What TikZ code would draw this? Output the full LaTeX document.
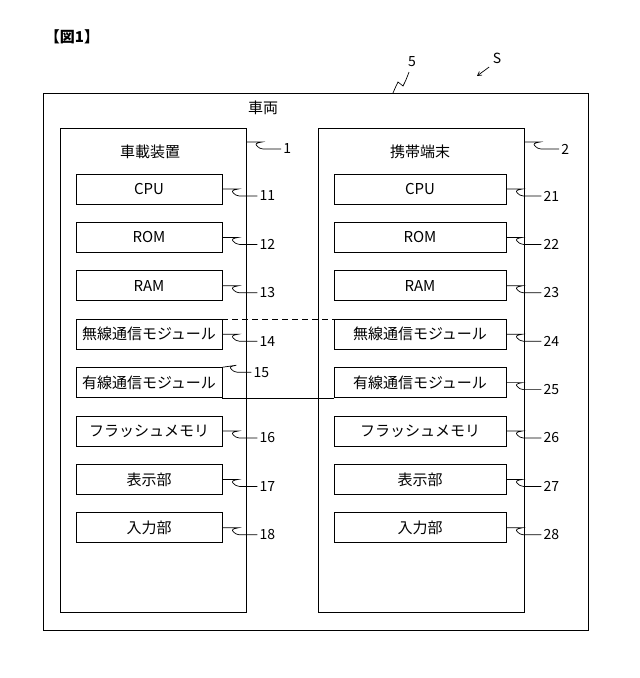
\documentclass[tikz,border=0pt]{standalone}
\usepackage{fontspec}
\setmainfont{Noto Sans CJK JP}
\usetikzlibrary{arrows, positioning}

\tikzset{
  part/.style={draw, minimum width=146pt, minimum height=30pt, inner sep=0pt, font=\fontsize{15}{17}\selectfont},
  tag/.style={font=\fontsize{14}{16}\selectfont, anchor=west, inner sep=2pt},
  lead/.style={line width=0.7pt},
}
% leader line with a small wiggle, ending in a named coordinate
\newcommand{\leadline}[3]{%
  \draw[lead] (#1) -- ++(16,0) .. controls ++(-6,1) and ++(-2,-2) .. ++(-5,4) .. controls ++(2,2) .. ++(6,3) -- ++(18,0) coordinate (#2);
  \node[tag] at (#2) {#3};}

\begin{document}
\begin{tikzpicture}[x=1pt, y=-1pt, line width=0.7pt]
   \useasboundingbox (0,0) rectangle (640,678);

   % Title and outer frame
      \node[font=\bfseries\fontsize{15}{17}\selectfont] (title) at (72,37) {【図1】};
      \node[draw, minimum width=545pt, minimum height=537pt, inner sep=0pt] (car) at (315.5,361.5) {};
      \node[font=\fontsize{15}{17}\selectfont] (carlabel) at (263,108) {車両};
      \node[font=\fontsize{14}{16}\selectfont] (n5) at (412,62) {5};
      \node[font=\fontsize{14}{16}\selectfont] (nS) at (497,58) {S};
      \coordinate (c5) at (393,93);
      \draw (c5) .. controls (396,86) .. (398,82) -- (403,86) .. controls (406,80) .. (409,72);
      \draw[->, >=angle 60] (nS.south west) -- (477,76);

   % Devices
      \node[draw, minimum width=186pt, minimum height=484pt, inner sep=0pt] (dev1) at (153,370) {};
      \node[draw, minimum width=206pt, minimum height=484pt, inner sep=0pt] (dev2) at (421,370) {};
      \node[font=\fontsize{15}{17}\selectfont] (name1) at (150,152) {車載装置};
      \node[font=\fontsize{15}{17}\selectfont] (name2) at (420,152) {携帯端末};
      \leadline{246,142}{t1}{1}
      \leadline{524,142}{t2}{2}

   % Modules
      \foreach \i/\txt [count=\k] in {1/CPU, 2/ROM, 3/RAM, 4/無線通信モジュール, 5/有線通信モジュール, 6/フラッシュメモリ, 7/表示部, 8/入力部} {
         \node[part] (a\i) at (149, 189+48.4*\k-48.4) {\txt};
         \node[part, minimum width=172pt] (b\i) at (420, 189+48.4*\k-48.4) {\txt};
      }
      \foreach \i in {1,2,3,4,6,7,8} {
         \leadline{a\i.east}{ta\i}{1\i}
         \leadline{b\i.east}{tb\i}{2\i}
      }
      \draw[lead] (a5.north east) -- ++(14,-2) .. controls ++(-6,1) and ++(-2,-2) .. ++(-5,4) .. controls ++(2,2) .. ++(6,3) -- ++(14,0) coordinate (ta5);
      \node[tag] at (ta5) {15};
      \leadline{b5.east}{tb5}{25}

   % Links
      \draw[dashed, dash pattern=on 6pt off 4pt] (a4.north east) -- (b4.north west);
      \draw (a5.south east) -- (b5.south west);
\end{tikzpicture}
\end{document}
